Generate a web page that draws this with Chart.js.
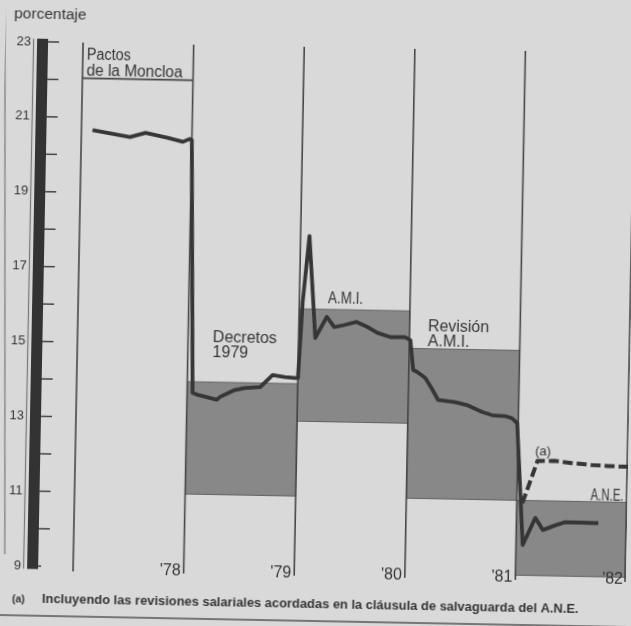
<!DOCTYPE html>
<html>
<head>
<meta charset="utf-8">
<script src="https://cdn.jsdelivr.net/npm/chart.js@4.4.0/dist/chart.umd.min.js"></script>
<style>
    html, body { margin: 0; padding: 0; background: #d9d9d9; overflow: hidden; }
    /* el recorte original está ligeramente girado */
    #marco { width: 631px; height: 626px; transform: rotate(1.09deg); transform-origin: 315.5px 313px; }
</style>
</head>
<body>
<div id="marco"><canvas id="salariosChart" width="631" height="626"></canvas></div>
<script>
// Límites de los periodos (inicio de cada año) y etiquetas
const anios = [1978, 1979, 1980, 1981, 1982, 1983];
const etiquetasAnio = ["'78", "'79", "'80", "'81", "'82"];
const periodos = ['Pactos de la Moncloa', 'Decretos 1979', 'A.M.I.', 'Revisión A.M.I.', 'A.N.E.'];

// Bandas salariales pactadas (porcentaje)
const bandaMin = [null, 11, 13, 11, 9];
const bandaMax = [null, 14, 16, 15, 11];

// Etiquetas del eje vertical
const ticksY = [9, 11, 13, 15, 17, 19, 21, 23];

// Incremento salarial pactado (línea continua)
const salarioX = [1978.10, 1978.44, 1978.58, 1978.78, 1978.92, 1978.98, 1979.00, 1979.05, 1979.10, 1979.27,
    1979.30, 1979.43, 1979.52, 1979.66, 1979.77, 1979.88, 1979.97, 1980.00, 1980.03, 1980.08,
    1980.15, 1980.25, 1980.32, 1980.41, 1980.52, 1980.62, 1980.71, 1980.83, 1980.96, 1981.01,
    1981.04, 1981.08, 1981.15, 1981.21, 1981.27, 1981.42, 1981.53, 1981.67, 1981.76, 1981.88,
    1981.94, 1981.99, 1982.06, 1982.17, 1982.24, 1982.36, 1982.44, 1982.74];
const salarioY = [20.67, 20.50, 20.62, 20.50, 20.40, 20.48, 20.45, 13.70, 13.65, 13.53,
    13.61, 13.80, 13.86, 13.89, 14.22, 14.17, 14.15, 14.15, 16.20, 17.95,
    15.23, 15.80, 15.53, 15.59, 15.68, 15.55, 15.40, 15.29, 15.30, 15.22,
    14.43, 14.37, 14.22, 13.95, 13.64, 13.59, 13.52, 13.34, 13.26, 13.24,
    13.19, 13.06, 9.81, 10.54, 10.22, 10.36, 10.44, 10.43];

// (a) incluyendo la cláusula de salvaguarda del A.N.E. (línea discontinua)
const salvaguardaX = [1982.05, 1982.18, 1982.34, 1982.49, 1982.67, 1982.82, 1983.00];
const salvaguardaY = [10.93, 12.06, 12.07, 12.02, 11.98, 11.96, 11.95];

const tinta = '#353535';
const fuente = '"Liberation Sans", Arial, sans-serif';

// Dibuja bandas, líneas de año, barra del eje y textos
const decorado = {
    id: 'decorado',
    beforeDatasetsDraw(chart) {
        const { ctx, chartArea: ca, scales: { x, y } } = chart;
        ctx.save();

        // borde de la página escaneada
        ctx.strokeStyle = '#8a8a8a';
        ctx.lineWidth = 1.5;
        ctx.beginPath();
        ctx.moveTo(-1, 0);
        ctx.lineTo(9.5, 560);
        ctx.stroke();

        // bandas grises
        for (let i = 0; i < bandaMin.length; i++) {
            if (bandaMin[i] === null) continue;
            const x0 = x.getPixelForValue(anios[i]);
            const x1 = x.getPixelForValue(anios[i + 1]);
            const y0 = y.getPixelForValue(bandaMax[i]);
            const y1 = y.getPixelForValue(bandaMin[i]);
            ctx.fillStyle = '#888888';
            ctx.fillRect(x0, y0, x1 - x0, y1 - y0);
            ctx.strokeStyle = '#626262';
            ctx.lineWidth = 1;
            ctx.strokeRect(x0, y0, x1 - x0, y1 - y0);
        }

        // líneas verticales de cada año
        ctx.strokeStyle = '#474747';
        ctx.lineWidth = 1.6;
        anios.forEach(a => {
            const px = Math.min(x.getPixelForValue(a), ca.right - 1);
            ctx.beginPath();
            ctx.moveTo(px, ca.top);
            ctx.lineTo(px, ca.bottom);
            ctx.stroke();
        });

        // corchete de los Pactos de la Moncloa
        const yCorchete = y.getPixelForValue(22.05);
        ctx.beginPath();
        ctx.moveTo(x.getPixelForValue(anios[0]), yCorchete);
        ctx.lineTo(x.getPixelForValue(anios[1]), yCorchete);
        ctx.stroke();

        // barra oscura del eje y sus marcas
        const yTop = y.getPixelForValue(23) - 3;
        const yBot = y.getPixelForValue(9) + 3;
        ctx.fillStyle = '#333';
        ctx.fillRect(ca.left - 11, yTop, 11, yBot - yTop);
        ctx.strokeStyle = '#777';
        ctx.lineWidth = 1.2;
        ctx.beginPath();
        ctx.moveTo(ca.left - 14.5, yTop);
        ctx.lineTo(ca.left - 14.5, yBot);
        ctx.stroke();
        ctx.strokeStyle = '#444';
        ctx.lineWidth = 1.5;
        for (let v = 9; v <= 23; v++) {
            const py = y.getPixelForValue(v);
            ctx.beginPath();
            ctx.moveTo(ca.left, py);
            ctx.lineTo(ca.left + (v === 9 ? 3 : 11), py);
            ctx.stroke();
        }
        ctx.restore();
    },
    afterDatasetsDraw(chart) {
        const { ctx, chartArea: ca, scales: { x, y } } = chart;
        ctx.save();
        ctx.fillStyle = tinta;
        ctx.textAlign = 'left';
        ctx.textBaseline = 'alphabetic';

        ctx.font = '15.5px ' + fuente;
        ctx.fillText('porcentaje', 8.5, 23.5);

        // nombres de los periodos: [texto, año, valor de la línea base, ancho máximo]
        const rotulos = [
            ['Pactos', 1978.036, 22.54, 44],
            ['de la Moncloa', 1978.036, 22.12, 96],
            ['Decretos', 1979.224, 15.07, 64],
            ['1979', 1979.224, 14.67, 40],
            ['A.M.I.', 1980.259, 16.17, 35],
            ['Revisión', 1981.167, 15.47, 61],
            ['A.M.I.', 1981.167, 15.07, 42],
            ['A.N.E.', 1982.665, 11.05, 33]
        ];
        ctx.font = '16px ' + fuente;
        rotulos.forEach(([t, a, v, w]) => {
            ctx.fillText(t, x.getPixelForValue(a), y.getPixelForValue(v), w);
        });
        ctx.font = '13px ' + fuente;
        ctx.fillText('(a)', x.getPixelForValue(1982.156), y.getPixelForValue(12.21));

        // años, a la izquierda de cada línea
        ctx.font = '16px ' + fuente;
        ctx.textAlign = 'right';
        etiquetasAnio.forEach((t, i) => {
            ctx.fillText(t, x.getPixelForValue(anios[i + 1]) - 3, ca.bottom + 2);
        });

        // nota al pie
        ctx.textAlign = 'left';
        ctx.font = 'bold 10.5px ' + fuente;
        ctx.fillText('(a)', 17.5, 608);
        const nota = 'Incluyendo las revisiones salariales acordadas en la cláusula de salvaguarda del A.N.E.';
        const ancho = ctx.measureText(nota).width;
        const tam = 10.5 * 537 / ancho;
        ctx.font = 'bold ' + tam.toFixed(2) + 'px ' + fuente;
        ctx.fillText(nota, 47.5, 608);

        ctx.strokeStyle = '#555';
        ctx.lineWidth = 1.5;
        ctx.beginPath();
        ctx.moveTo(0, 621);
        ctx.lineTo(631, 621);
        ctx.stroke();
        ctx.restore();
    }
};

new Chart(document.getElementById('salariosChart'), {
    type: 'line',
    data: {
        datasets: [{
            label: 'Incremento salarial',
            data: salarioX.map((v, i) => ({ x: v, y: salarioY[i] })),
            borderColor: '#363636',
            borderWidth: 3.8,
            borderJoinStyle: 'round',
            pointRadius: 0,
            tension: 0
        }, {
            label: '(a) con cláusula de salvaguarda',
            data: salvaguardaX.map((v, i) => ({ x: v, y: salvaguardaY[i] })),
            borderColor: '#363636',
            borderWidth: 4,
            borderDash: [10, 4],
            pointRadius: 0,
            tension: 0
        }]
    },
    options: {
        responsive: false,
        animation: false,
        layout: { padding: { top: 47, bottom: 50, left: 0, right: 0 } },
        plugins: { legend: { display: false }, tooltip: { enabled: false } },
        scales: {
            x: { type: 'linear', min: 1977.6836, max: 1983, display: false },
            y: {
                type: 'linear',
                min: 8.875,
                max: 23,
                afterFit: s => { s.width = 43; },
                afterBuildTicks: s => { s.ticks = ticksY.map(v => ({ value: v })); },
                grid: { display: false, drawTicks: false },
                border: { display: false },
                ticks: {
                    padding: 17,
                    color: tinta,
                    font: { family: fuente, size: 13 },
                    callback: v => v
                }
            }
        }
    },
    plugins: [decorado]
});
</script>
</body>
</html>
